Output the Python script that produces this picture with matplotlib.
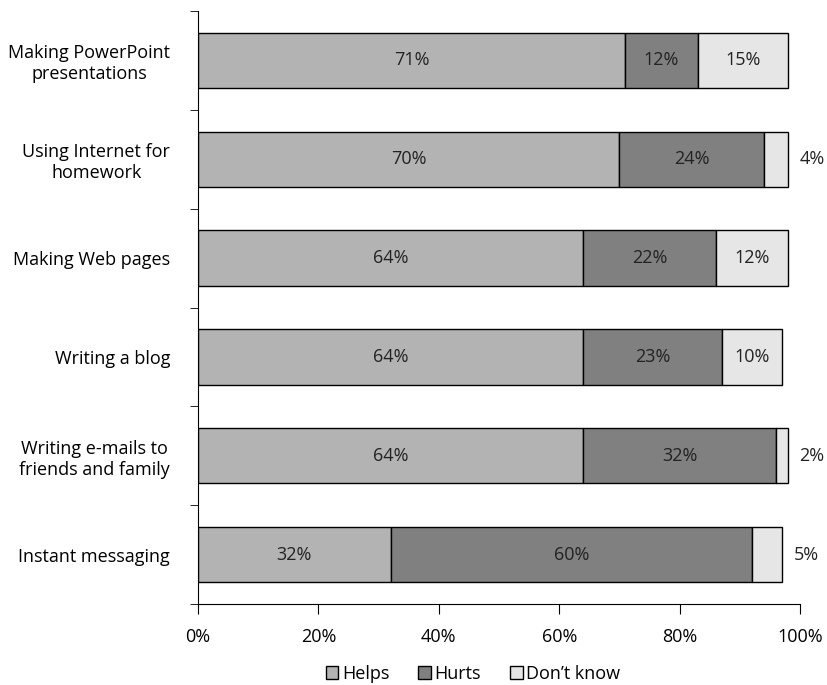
import matplotlib.pyplot as plt
from matplotlib.patches import Patch
import numpy as np

plt.rcParams['font.family'] = ['Open Sans', 'DejaVu Sans']

categories = [
    "Making PowerPoint\npresentations",
    "Using Internet for\nhomework",
    "Making Web pages",
    "Writing a blog",
    "Writing e-mails to\nfriends and family",
    "Instant messaging",
]
helps = [71, 70, 64, 64, 64, 32]
hurts = [12, 24, 22, 23, 32, 60]
dont_know = [15, 4, 12, 10, 2, 5]

series_names = ["Helps", "Hurts", "Don\u2019t know"]
colors = ["#b3b3b3", "#808080", "#e6e6e6"]
fs = 13

fig = plt.figure(figsize=(8.28, 6.85), dpi=100)
ax = fig.add_axes([198 / 828, 1 - 604 / 685, 602 / 828, 593 / 685])

y = np.arange(len(categories))
left = np.zeros(len(categories))
for vals, col in zip([helps, hurts, dont_know], colors):
    vals = np.array(vals)
    ax.barh(y, vals, left=left, height=0.56, color=col,
            edgecolor="black", linewidth=1)
    for yi, l, v in zip(y, left, vals):
        if v >= 10:
            ax.text(l + v / 2, yi, f"{v}%", ha="center", va="center",
                    fontsize=fs, color="#222222")
        else:
            ax.text(l + v + 1.9, yi, f"{v}%", ha="left", va="center",
                    fontsize=fs, color="#222222")
    left += vals

ax.set_xlim(0, 100)
ax.set_ylim(len(categories) - 0.5, -0.5)
ax.set_xticks(np.arange(0, 101, 20))
ax.set_xticklabels([f"{v}%" for v in range(0, 101, 20)], fontsize=fs)
ax.set_yticks(y)
ax.set_yticklabels(categories, fontsize=fs, multialignment="center")
ax.set_yticks(np.arange(-0.5, len(categories), 1), minor=True)
ax.tick_params(axis="y", which="major", length=0, pad=20)
ax.tick_params(axis="y", which="minor", length=6, direction="out")
ax.tick_params(axis="x", length=7, direction="out", pad=10)
ax.spines["top"].set_visible(False)
ax.spines["right"].set_visible(False)

handles = [Patch(facecolor=c, edgecolor="black", linewidth=1) for c in colors]
fig.legend(handles, series_names, loc="center", ncol=3, frameon=False,
           bbox_to_anchor=(473 / 828, 1 - 674 / 685), fontsize=fs,
           handlelength=0.7, handleheight=0.7, handletextpad=0.2,
           columnspacing=1.6)

fig.savefig("out.png", dpi=100)
